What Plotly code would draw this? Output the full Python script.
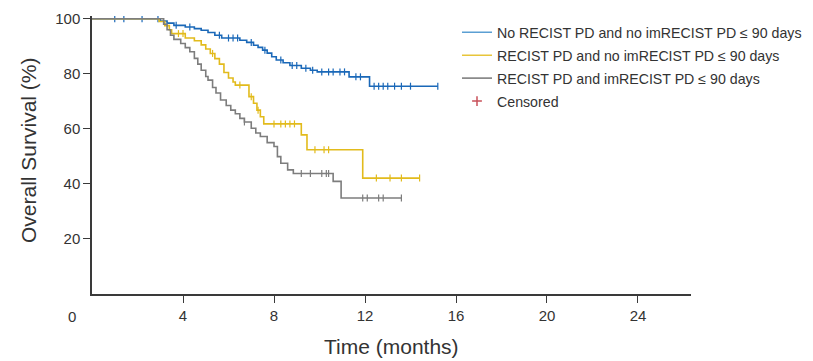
import numpy as np
import plotly.graph_objects as go

# ---- data ----
series_names = [
    "No RECIST PD and no imRECIST PD \u2264 90 days",
    "RECIST PD and no imRECIST PD \u2264 90 days",
    "RECIST PD and imRECIST PD \u2264 90 days",
]

blue_t = [0, 3.0, 3.3, 3.6, 4.1, 4.5, 4.8, 5.1, 5.4, 5.7, 6.5, 6.8, 7.1, 7.3, 7.5, 7.7, 7.9, 8.1,
          8.4, 8.7, 9.2, 9.6, 9.9, 11.3, 12.2, 15.2]
blue_s = [100, 99.2, 98.4, 97.6, 97.0, 96.4, 95.8, 95.0, 94.0, 93.0, 92.2, 91.4, 90.4, 89.6, 88.6,
          87.5, 86.2, 85.0, 84.0, 83.0, 82.0, 81.3, 80.7, 78.9, 75.5, 75.5]
blue_cens = [1.0, 1.4, 2.2, 2.9, 3.7, 4.3, 5.6, 6.0, 6.2, 6.4, 7.0, 7.6, 8.3, 8.8, 9.0, 9.4, 9.7,
             10.1, 10.4, 10.6, 10.9, 11.1, 11.6, 11.8, 12.4, 12.6, 12.8, 13.0, 13.3, 13.6, 14.0, 15.2]

yellow_t = [0, 2.95, 3.2, 3.4, 3.5, 4.1, 4.5, 4.8, 5.0, 5.2, 5.4, 5.6, 5.8, 6.0, 6.2, 6.3, 6.9,
            7.1, 7.25, 7.4, 7.55, 9.2, 9.45, 11.9, 14.4]
yellow_s = [100, 99.0, 97.5, 96.0, 94.6, 93.0, 92.0, 90.5, 89.0, 87.4, 85.5, 83.5, 80.5, 78.5, 77.0,
            75.9, 71.7, 69.3, 66.8, 64.4, 61.8, 57.8, 52.4, 42.1, 42.1]
yellow_cens = [3.8, 4.0, 5.3, 6.5, 7.0, 7.3, 8.0, 8.3, 8.5, 8.7, 8.9, 9.8, 10.2, 10.4, 12.5, 13.1,
               13.6, 14.4]

gray_t = [0, 3.15, 3.3, 3.45, 3.6, 3.9, 4.1, 4.3, 4.5, 4.65, 4.8, 5.0, 5.1, 5.3, 5.45, 5.65, 5.9,
          6.1, 6.3, 6.5, 6.7, 7.0, 7.2, 7.4, 7.7, 8.0, 8.15, 8.3, 8.6, 8.85, 10.6, 10.95, 13.6]
gray_s = [100, 98.0, 96.0, 94.0, 92.5, 91.0, 89.5, 88.0, 85.6, 83.5, 81.3, 79.0, 77.7, 75.0, 73.0,
          70.5, 68.5, 66.8, 65.5, 63.8, 62.5, 60.2, 58.5, 57.2, 55.0, 53.6, 49.9, 47.5, 45.1, 43.8,
          40.9, 34.9, 34.9]
gray_cens = [6.7, 9.2, 9.6, 10.1, 10.3, 10.4, 11.9, 12.1, 12.6, 12.8, 13.6]

x_ticks = [4, 8, 12, 16, 20, 24]
y_ticks = [20, 40, 60, 80, 100]

curve_colors = ["#1a68b8", "#e2bb1c", "#7d7d7d"]
legend_colors = ["#5b9fd3", "#e8c53a", "#8a8a8a"]
cens_color = "#c8505a"

FONT = "Liberation Sans, Arial, sans-serif"
TXT = "#333333"

# the page body has an 8px margin, so the figure is drawn 8px in from the top-left
OFF = 8
W, H = 813 - OFF, 361 - OFF
L, T = 92 - OFF, 15.5 - OFF
R = W - (691 - OFF)
B = H - (294.5 - OFF)
PW, PH = W - L - R, H - T - B


def px_x(p):  # page px -> paper x
    return (p - OFF - L) / PW


def px_y(p):  # page px -> paper y
    return (H - B - (p - OFF)) / PH


def step_value(ts, ss, x):
    i = np.searchsorted(np.asarray(ts), x, side="right") - 1
    return float(np.asarray(ss)[max(i, 0)])


fig = go.Figure()
data = [(blue_t, blue_s, blue_cens), (yellow_t, yellow_s, yellow_cens), (gray_t, gray_s, gray_cens)]
for k, (ts, ss, cs) in enumerate(data):
    fig.add_trace(go.Scatter(x=ts, y=ss, mode="lines", line=dict(color=curve_colors[k], width=1.6, shape="hv"),
                             showlegend=False, hoverinfo="skip"))
    fig.add_trace(go.Scatter(x=cs, y=[step_value(ts, ss, c) for c in cs], mode="markers",
                             marker=dict(symbol="line-ns", size=5, line=dict(color=curve_colors[k], width=1.2)),
                             showlegend=False, hoverinfo="skip"))

for k, name in enumerate(series_names):
    fig.add_trace(go.Scatter(x=[None], y=[None], mode="lines", name=name,
                             line=dict(color=legend_colors[k], width=1.6), legendgroup=f"g{k}"))
fig.add_trace(go.Scatter(x=[None], y=[None], mode="markers", name="Censored", legendgroup="gc",
                         marker=dict(symbol="cross-thin", size=7, line=dict(color=cens_color, width=1.5))))

axis_common = dict(showline=True, linecolor="#3a3a3a", linewidth=1.5, ticks="outside", tickcolor="#3a3a3a",
                   ticklen=7, tickwidth=1.3, showgrid=False, zeroline=False, automargin=False,
                   tickfont=dict(family=FONT, size=15, color=TXT))

fig.update_layout(
    width=W, height=H,
    margin=dict(l=L, r=R, t=T, b=B, autoexpand=False),
    paper_bgcolor="white", plot_bgcolor="white",
    font=dict(family=FONT, color=TXT),
    xaxis=dict(range=[0, 26.33], tickvals=x_ticks, ticktext=[str(v) for v in x_ticks], **axis_common),
    yaxis=dict(range=[0, 101], tickvals=y_ticks, ticktext=[str(v) for v in y_ticks], **axis_common),
    legend=dict(x=px_x(457), xanchor="left", y=px_y(16), yanchor="top",
                font=dict(family=FONT, size=14.2, color=TXT), tracegroupgap=1.5, itemwidth=30,
                bgcolor="rgba(0,0,0,0)"),
    showlegend=True,
)

# origin label and axis titles
fig.add_annotation(text="0", xref="paper", yref="paper", x=px_x(72), y=px_y(317),
                   xanchor="center", yanchor="middle",
                   showarrow=False, font=dict(family=FONT, size=15, color=TXT))
fig.add_annotation(text="Time (months)", xref="paper", yref="paper", x=px_x(391), y=px_y(347),
                   xanchor="center", yanchor="middle",
                   showarrow=False, font=dict(family=FONT, size=21, color=TXT))
fig.add_annotation(text="Overall Survival (%)", xref="paper", yref="paper", x=px_x(28),
                   y=px_y(150), textangle=-90, xanchor="center", yanchor="middle",
                   showarrow=False, font=dict(family=FONT, size=21, color=TXT))

fig.write_html("out.html")
